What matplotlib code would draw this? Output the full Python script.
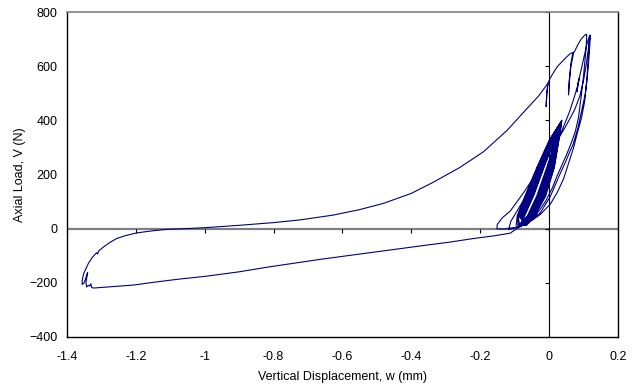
import matplotlib
matplotlib.use('Agg')
import matplotlib.pyplot as plt

plt.rcParams['font.family'] = ['Liberation Sans', 'DejaVu Sans']
plt.rcParams['font.size'] = 9

# small load cycles around the origin (w in mm, V in N)
core_w = [-0.095,
          -0.092, -0.069, -0.035, 0.002, 0.038, 0.033, 0.016, -0.009, -0.041, -0.064,
          -0.087, -0.063, -0.030, 0.005, 0.034, 0.030, 0.011, -0.015, -0.046, -0.070,
          -0.082, -0.057, -0.025, 0.007, 0.029, 0.025, 0.006, -0.021, -0.051, -0.075,
          -0.077, -0.051, -0.020, 0.009, 0.025, 0.021, 0.001, -0.027, -0.056, -0.080,
          -0.072, -0.045, -0.015, 0.010, 0.020, 0.016, -0.004, -0.033, -0.061, -0.085,
          -0.089, -0.066, -0.033, 0.003, 0.036, 0.032, 0.013, -0.012, -0.044, -0.068,
          -0.084, -0.060, -0.027, 0.006, 0.031, 0.027, 0.008, -0.018, -0.049, -0.073,
          -0.079, -0.054, -0.022, 0.008, 0.027, 0.023, 0.003, -0.024, -0.054, -0.078,
          -0.074, -0.048, -0.017, 0.010, 0.022, 0.018, -0.002, -0.030, -0.059, -0.083,
          -0.070, -0.043, -0.013, 0.008, 0.017, 0.014, -0.006, -0.035, -0.063, -0.088,
          -0.091, -0.068, -0.034, 0.002, 0.037, 0.033, 0.015, -0.011, -0.042, -0.066,
          -0.086, -0.062, -0.029, 0.005, 0.033, 0.029, 0.010, -0.017, -0.047, -0.072,
          -0.080, -0.055, -0.023, 0.008, 0.028, 0.024, 0.004, -0.023, -0.053, -0.077,
          -0.075, -0.050, -0.018, 0.010, 0.023, 0.019, -0.001, -0.028, -0.058, -0.082,
          -0.073, -0.047, -0.016, 0.009, 0.019, 0.015, -0.003, -0.032, -0.060, -0.090,
          -0.088, -0.064, -0.031, 0.004, 0.035, 0.031, 0.012, -0.014, -0.045, -0.069,
          -0.083, -0.058, -0.026, 0.007, 0.030, 0.026, 0.007, -0.020, -0.050, -0.074,
          -0.078, -0.053, -0.021, 0.009, 0.026, 0.022, 0.002, -0.025, -0.055, -0.080]
core_v = [12,
          47, 121, 226, 328, 401, 358, 226, 121, 47, 13,
          45, 118, 224, 330, 390, 352, 229, 124, 49, 12,
          49, 123, 228, 331, 375, 340, 223, 119, 45, 14,
          46, 120, 222, 320, 360, 325, 227, 123, 48, 10,
          48, 124, 229, 310, 345, 315, 224, 118, 46, 12,
          44, 119, 225, 328, 396, 356, 228, 122, 50, 13,
          47, 122, 227, 329, 382, 346, 225, 120, 46, 11,
          50, 117, 223, 325, 368, 332, 230, 125, 47, 13,
          46, 121, 226, 315, 352, 320, 222, 119, 49, 11,
          48, 125, 230, 300, 335, 305, 226, 121, 45, 12,
          45, 120, 224, 328, 399, 358, 227, 123, 48, 12,
          49, 118, 228, 330, 386, 350, 223, 118, 46, 13,
          47, 123, 225, 326, 372, 336, 229, 124, 49, 12,
          44, 120, 222, 316, 356, 322, 226, 120, 47, 10,
          48, 122, 227, 305, 340, 310, 224, 122, 45, 9,
          46, 119, 229, 328, 393, 354, 228, 125, 48, 12,
          50, 124, 224, 329, 378, 342, 225, 119, 46, 14,
          47, 121, 226, 322, 364, 330, 227, 121, 49, 11]

# larger cycles reaching ~560 and ~716 N
outer_w = [-0.100, -0.117, -0.110, -0.090, -0.062, -0.030, 0.000, 0.020, 0.038, 0.060,
           0.076, 0.085, 0.088, 0.085, 0.082, 0.084, 0.089, 0.097, 0.105, 0.111, 0.118,
           0.117, 0.114, 0.110, 0.104, 0.094, 0.082, 0.072, 0.058, 0.043, 0.025, 0.004,
           -0.025, -0.054, -0.090, -0.130, -0.151,
           -0.150, -0.135, -0.112, -0.074, -0.025, 0.023, 0.052, 0.075, 0.090, 0.101,
           0.109, 0.115, 0.118, 0.120,
           0.120, 0.117, 0.112, 0.106, 0.096, 0.084, 0.070, 0.062, 0.048, 0.033, 0.018,
           0.004, -0.025, -0.050, -0.064, -0.083, -0.100, -0.112]
outer_v = [2, -4, 28, 70, 130, 205, 280, 330, 362, 432,
           495, 535, 556, 540, 506, 530, 560, 605, 650, 685, 712,
           690, 620, 545, 470, 405, 350, 300, 245, 185, 135, 90,
           52, 26, 6, -2, -1,
           15, 40, 65, 132, 225, 322, 385, 440, 490, 550,
           610, 665, 695, 716,
           700, 640, 565, 500, 440, 370, 310, 288, 245, 204, 160,
           118, 58, 32, 20, 7, -6, -17]

# large excursion: unloading branch going to -1.36 mm
lower_w = [-0.16, -0.22, -0.287, -0.36, -0.442, -0.52, -0.60, -0.665, -0.74, -0.819,
           -0.90, -0.994, -1.081, -1.15, -1.207, -1.27, -1.323,
           -1.328, -1.331, -1.334, -1.338, -1.343, -1.345, -1.340, -1.344, -1.350, -1.356]
lower_v = [-27, -37, -50, -62, -76, -89, -103, -114, -128, -143,
           -160, -176, -188, -199, -209, -215, -220,
           -218, -204, -213, -210, -216, -200, -162, -178, -200, -207]

# reloading branch back towards the origin
upper_w = [-1.356, -1.352, -1.345, -1.338, -1.326, -1.314, -1.311, -1.308, -1.295, -1.275,
           -1.256, -1.23, -1.197, -1.15, -1.110, -1.05, -1.002, -0.90, -0.80, -0.723,
           -0.626, -0.55, -0.481, -0.40, -0.335, -0.26, -0.190, -0.12, -0.065, -0.03, -0.003]
upper_v = [-192, -168, -148, -129, -106, -89, -94, -83, -69, -51,
           -37, -26, -16, -8, -3, 0, 3, 12, 22, 32,
           50, 70, 93, 130, 172, 225, 284, 365, 442, 490, 537]

# final peaks (652 N and 719 N) and last unloading
top_w = [-0.006, -0.008, -0.006, -0.002, 0.009, 0.025, 0.048, 0.060, 0.067, 0.072,
         0.070, 0.064, 0.060, 0.057, 0.059, 0.064, 0.069, 0.075, 0.085, 0.095, 0.104, 0.109,
         0.110, 0.108, 0.104, 0.101, 0.094, 0.086, 0.077, 0.066, 0.052, 0.038, 0.024,
         0.010, -0.010, -0.040, -0.065, -0.088]
top_v = [500, 451, 498, 541, 568, 600, 630, 645, 650, 652,
         638, 600, 550, 494, 545, 610, 646, 656, 682, 703, 715, 719,
         712, 665, 610, 568, 490, 410, 360, 320, 275, 235, 195,
         150, 100, 45, 20, 13]

disp = core_w + outer_w + lower_w + upper_w + top_w
load = core_v + outer_v + lower_v + upper_v + top_v

xticks = [-1.4, -1.2, -1.0, -0.8, -0.6, -0.4, -0.2, 0.0, 0.2]
xlabels = ['-1.4', '-1.2', '-1', '-0.8', '-0.6', '-0.4', '-0.2', '0', '0.2']
yticks = [-400, -200, 0, 200, 400, 600, 800]

W, H = 637, 387
fig = plt.figure(figsize=(W / 100, H / 100), dpi=100)
ax = fig.add_axes([67 / W, 1 - 336.7 / H, 550.7 / W, 324.4 / H])

ax.plot(disp, load, color='#000080', lw=0.8, zorder=3)

# axes crossing at zero
ax.axhline(0, color='#808080', lw=1.6, zorder=1)
ax.axvline(0, color='black', lw=0.8, zorder=1)
ax.plot(xticks, [0] * len(xticks), ls='none', marker=3, ms=3, mew=0.8,
        color='black', zorder=2, clip_on=False)
ax.plot([0] * len(yticks), yticks, ls='none', marker=0, ms=3, mew=0.8,
        color='black', zorder=2, clip_on=False)

ax.set_xlim(-1.4, 0.2)
ax.set_ylim(-400, 800)
ax.set_xticks(xticks, xlabels)
ax.set_yticks(yticks)
ax.tick_params(axis='x', length=0, pad=10)
ax.tick_params(axis='y', length=0, pad=7)

for side in ['left', 'bottom', 'right']:
    ax.spines[side].set_color('black')
    ax.spines[side].set_linewidth(1.0)
ax.spines['top'].set_color('#808080')
ax.spines['top'].set_linewidth(1.2)

fig.text(20 / W, 1 - 174.5 / H, 'Axial Load, V (N)', rotation=90,
         ha='center', va='center')
fig.text(342.4 / W, 1 - 376.7 / H, 'Vertical Displacement, w (mm)',
         ha='center', va='center')

fig.savefig('out.png', dpi=100)
